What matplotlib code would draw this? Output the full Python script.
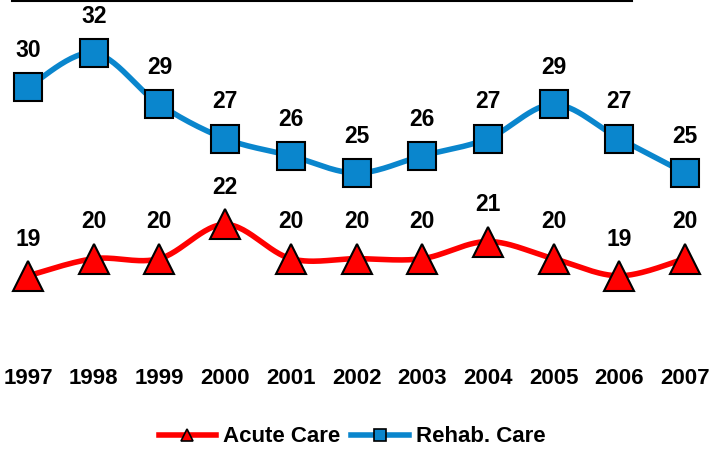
import numpy as np
import matplotlib
matplotlib.use("Agg")
import matplotlib.pyplot as plt
from matplotlib.lines import Line2D
import matplotlib.transforms as mtransforms

years = [1997, 1998, 1999, 2000, 2001, 2002, 2003, 2004, 2005, 2006, 2007]
acute = [19, 20, 20, 22, 20, 20, 20, 21, 20, 19, 20]
rehab = [30, 32, 29, 27, 26, 25, 26, 27, 29, 27, 25]

RED = "#FF0000"
BLUE = "#0A86CD"
FONT = "Liberation Sans"


def smooth(xs, ys, n=30):
    xs = np.asarray(xs, float)
    ys = np.asarray(ys, float)
    px = np.concatenate([[xs[0]], xs, [xs[-1]]])
    py = np.concatenate([[ys[0]], ys, [ys[-1]]])
    outx, outy = [], []
    t = np.linspace(0, 1, n)
    for i in range(1, len(px) - 2):
        p0x, p1x, p2x, p3x = px[i - 1:i + 3]
        p0y, p1y, p2y, p3y = py[i - 1:i + 3]
        c1x = p1x + (p2x - p0x) / 6
        c1y = p1y + (p2y - p0y) / 6
        c2x = p2x - (p3x - p1x) / 6
        c2y = p2y - (p3y - p1y) / 6
        bx = (1 - t) ** 3 * p1x + 3 * (1 - t) ** 2 * t * c1x + 3 * (1 - t) * t ** 2 * c2x + t ** 3 * p2x
        by = (1 - t) ** 3 * p1y + 3 * (1 - t) ** 2 * t * c1y + 3 * (1 - t) * t ** 2 * c2y + t ** 3 * p2y
        outx.extend(bx)
        outy.extend(by)
    return np.array(outx), np.array(outy)


fig = plt.figure(figsize=(7.27, 4.51), dpi=100)
ax = fig.add_axes([0, 0, 1, 1])
ax.set_xlim(1996.574, 2007.639)
ax.set_ylim(8.78, 35.09)
ax.axis("off")

for vals, color, marker, ms in [(acute, RED, "^", 22), (rehab, BLUE, "s", 20)]:
    sx, sy = smooth(years, vals)
    ax.plot(sx, sy, color=color, lw=4, solid_capstyle="round", zorder=2)
    ax.plot(years, vals, ls="none", marker=marker, ms=ms, mfc=color,
            mec="black", mew=1.5, zorder=3)
    for x, v in zip(years, vals):
        ax.annotate(f"{v}", (x, v), xytext=(0, 26.5), textcoords="offset points",
                    ha="center", va="center", fontsize=16.5, fontweight="bold",
                    family=FONT, color="black", zorder=4)

trans = mtransforms.blended_transform_factory(ax.transData, ax.transAxes)
for x in years:
    ax.text(x, 1 - 378 / 451, str(x), transform=trans, ha="center", va="center",
            fontsize=16, fontweight="bold", family=FONT)

fig.add_artist(Line2D([12 / 727, 632 / 727], [1 - 1 / 451, 1 - 1 / 451],
                      transform=fig.transFigure, color="black", lw=1.5))

handles = [
    Line2D([], [], color=RED, lw=4, marker="^", ms=9, mfc=RED, mec="black", mew=1.2),
    Line2D([], [], color=BLUE, lw=4, marker="s", ms=8, mfc=BLUE, mec="black", mew=1.2),
]
fig.legend(handles, ["Acute Care", "Rehab. Care"], loc="center",
           bbox_to_anchor=(352 / 727, 1 - 437 / 451), ncol=2, frameon=False,
           handlelength=2.6, handletextpad=0.3, columnspacing=0.5,
           prop={"family": FONT, "weight": "bold", "size": 16})

fig.savefig("out.png", dpi=100)
